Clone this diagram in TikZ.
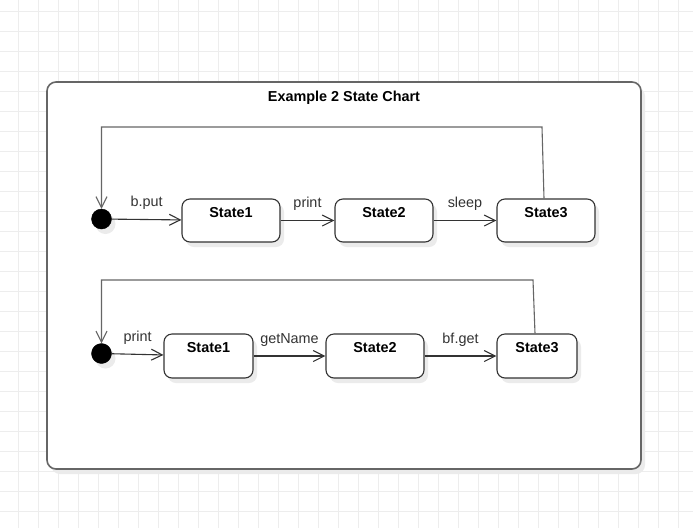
\documentclass[tikz,border=0pt]{standalone}
\usepackage{fontspec}
\setmainfont{Liberation Sans}
\usetikzlibrary{arrows.meta,calc,shadows}
\definecolor{gridc}{HTML}{EDEDED}
\definecolor{shad}{HTML}{EBEBEB}
\definecolor{edgec}{HTML}{333333}
\definecolor{framec}{HTML}{666666}
\begin{document}
\begin{tikzpicture}[x=1pt,y=-1pt,
  every node/.style={font=\fontsize{14.4}{17}\selectfont, text=edgec},
  shadowed/.style={general shadow={shadow xshift=4pt, shadow yshift=-5pt, fill=shad}},
  statebox/.style={draw=edgec, line width=1.1pt, rounded corners=8pt, fill=white, inner sep=0pt, shadowed},
  initstate/.style={circle, fill=black, draw=black, minimum size=20pt, inner sep=0pt, shadowed},
  frame/.style={draw=framec, line width=1.6pt, rounded corners=9pt, fill=white, inner sep=0pt, shadowed},
  boldtext/.style={font=\fontsize{14.4}{17}\selectfont\bfseries, text=black, anchor=base, inner sep=0pt},
  elabel/.style={midway, anchor=base, yshift=13pt, inner sep=0pt},
  ed/.style={draw=edgec, line width=1.1pt, -{Straight Barb[length=11pt,width=11pt]}},
  fb/.style={draw=framec, line width=1.1pt, -{Straight Barb[length=11pt,width=11pt]}},
]
\useasboundingbox (0,0) rectangle (693,528);
\fill[white] (0,0) rectangle (693,528);
\foreach \x in {18,38,...,678} \draw[gridc, line width=0.8pt] (\x,0) -- (\x,528);
\foreach \y in {11.5,31.5,...,511.5} \draw[gridc, line width=0.8pt] (0,\y) -- (693,\y);

\node[frame, minimum width=594pt, minimum height=387pt] (frame) at (344,275.5) {};
\node[boldtext] (title) at (344,101) {Example 2 State Chart};

% Row 1
\node[initstate] (i1) at (101.5,219) {};
\node[statebox, minimum width=98pt, minimum height=43pt] (s1) at (231,220.5) {};
\node[statebox, minimum width=98pt, minimum height=43pt] (s2) at (384,220.5) {};
\node[statebox, minimum width=98pt, minimum height=43pt] (s3) at (546,220.5) {};
\node[boldtext] (s1t) at ([yshift=-19pt]s1.north) {State1};
\node[boldtext] (s2t) at ([yshift=-19pt]s2.north) {State2};
\node[boldtext] (s3t) at ([yshift=-19pt]s3.north) {State3};
\draw[ed] (i1) -- (s1) node[elabel] (l1) {b.put};
\draw[ed] (s1) -- (s2) node[elabel] (l2) {print};
\draw[ed] (s2) -- (s3) node[elabel] (l3) {sleep};
\coordinate (t1) at (542,127);
\draw[fb] ([xshift=-2pt]s3.north) -- (t1) -| (i1.north);

% Row 2
\node[initstate] (i2) at (101.5,353.5) {};
\node[statebox, minimum width=89pt, minimum height=44pt] (r1) at (208.5,356) {};
\node[statebox, minimum width=98pt, minimum height=44pt] (r2) at (375,356) {};
\node[statebox, minimum width=80pt, minimum height=44pt] (r3) at (537,356) {};
\node[boldtext] (r1t) at ([yshift=-19pt]r1.north) {State1};
\node[boldtext] (r2t) at ([yshift=-19pt]r2.north) {State2};
\node[boldtext] (r3t) at ([yshift=-19pt]r3.north) {State3};
\draw[ed] (i2) -- (r1) node[elabel] (m1) {print};
\draw[ed] (r1) -- (r2) node[elabel] (m2) {getName};
\draw[ed] (r2) -- (r3) node[elabel] (m3) {bf.get};
\coordinate (t2) at (533,280);
\draw[fb] ([xshift=-2pt]r3.north) -- (t2) -| (i2.north);
\end{tikzpicture}
\end{document}
